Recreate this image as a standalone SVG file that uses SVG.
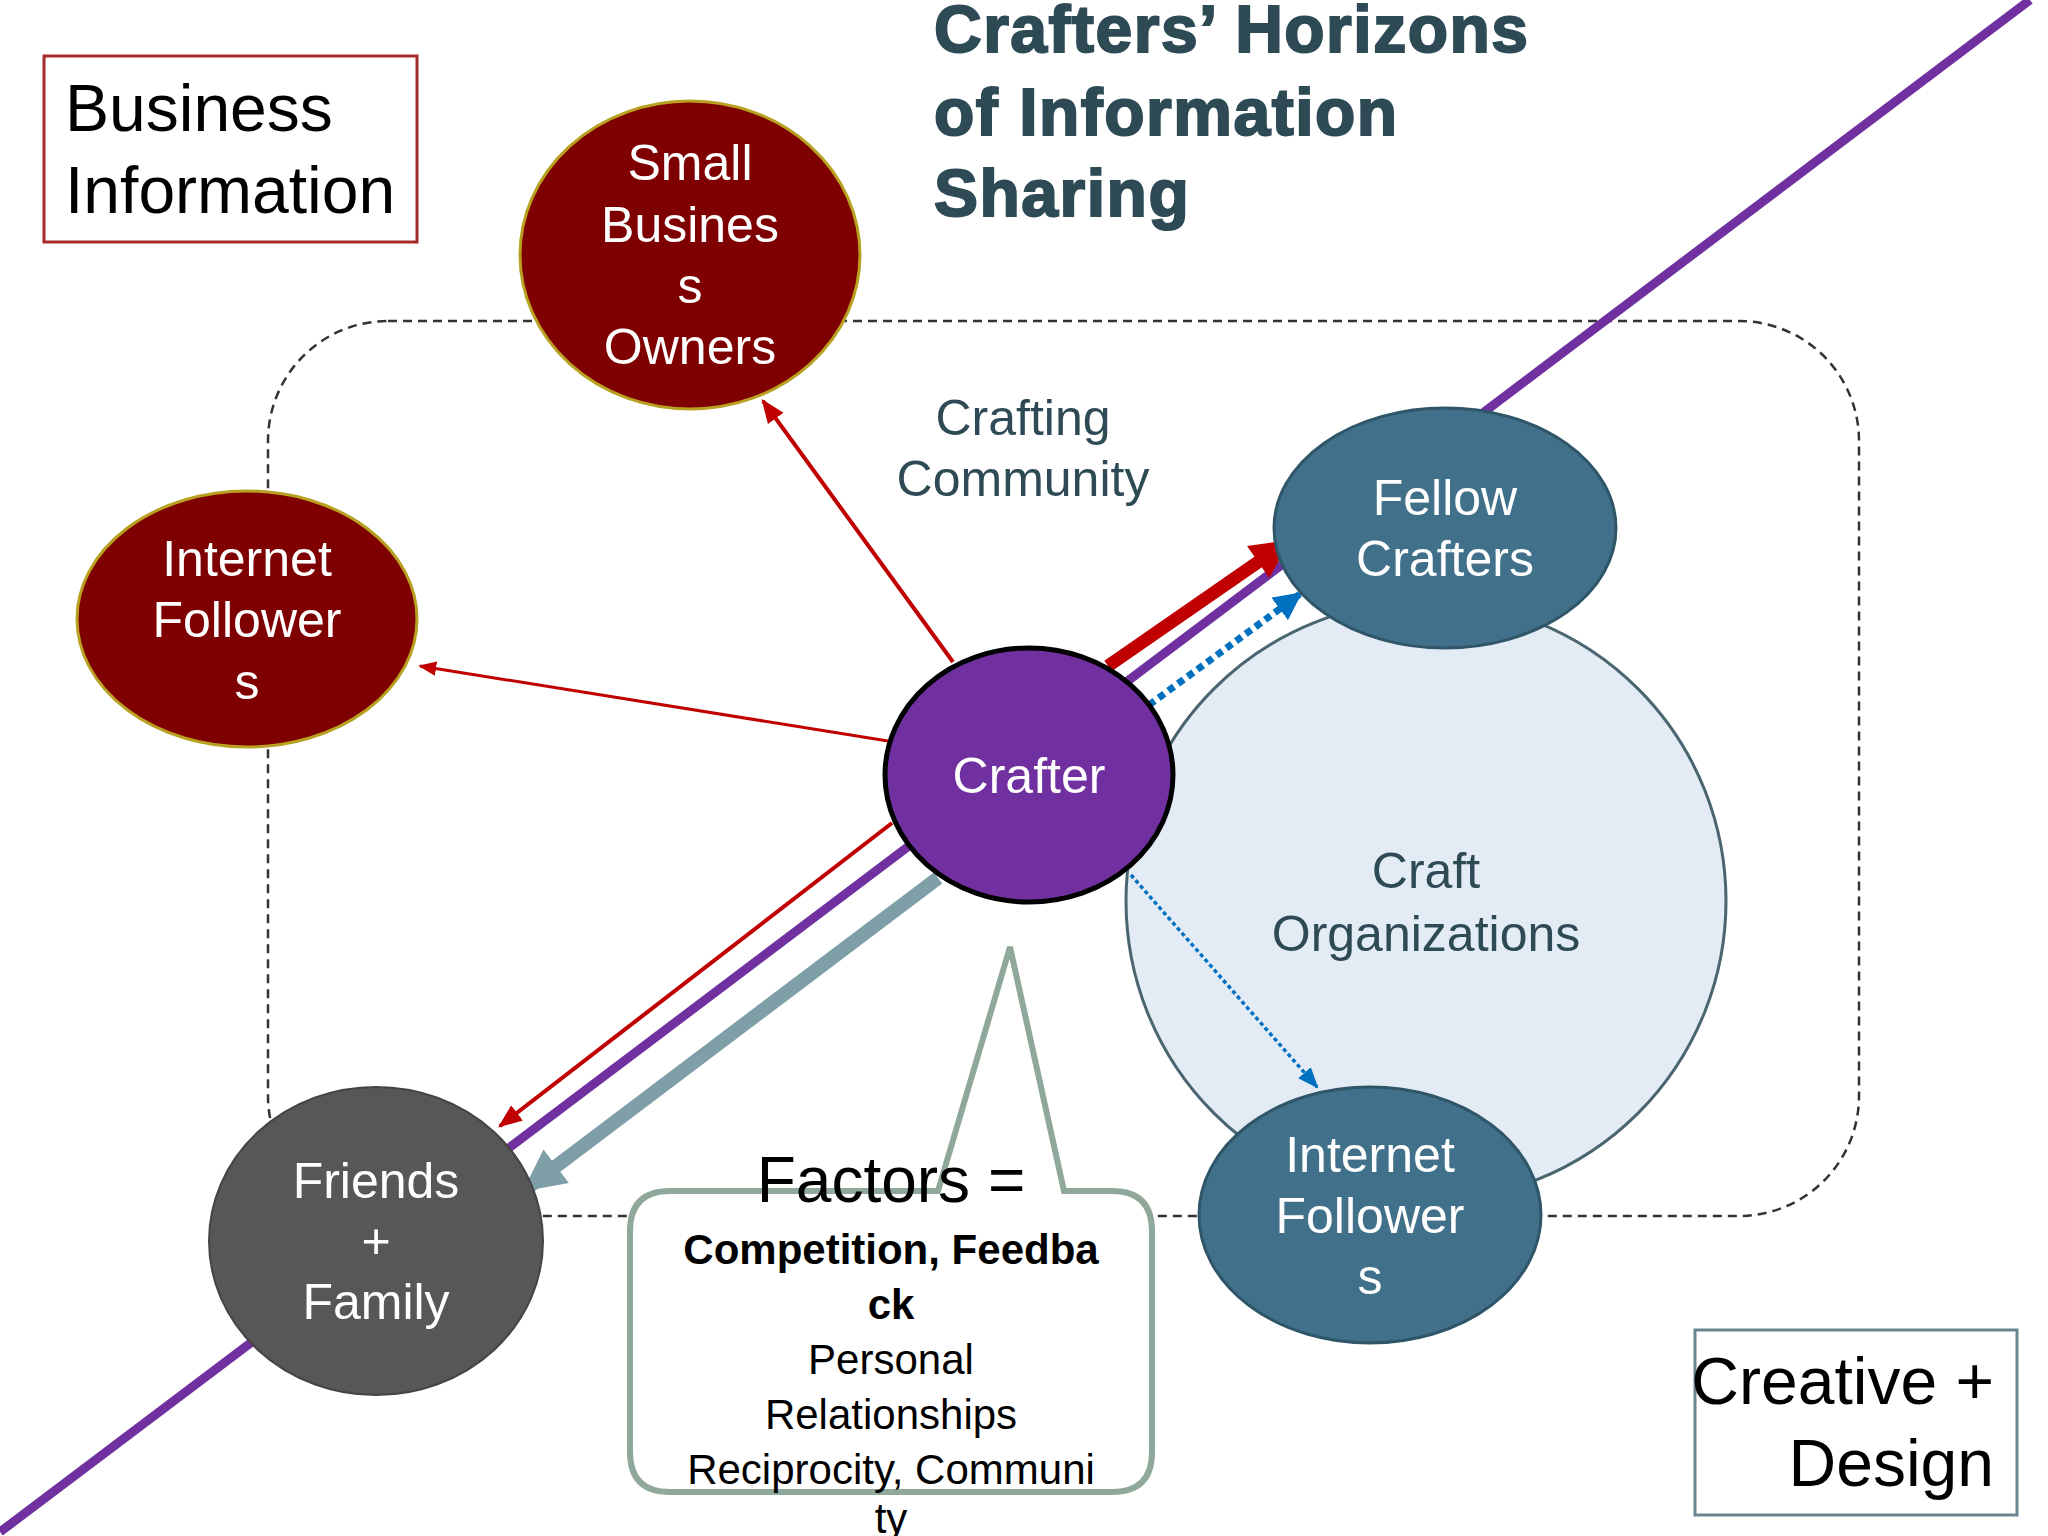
<svg xmlns="http://www.w3.org/2000/svg" width="2048" height="1536" viewBox="0 0 2048 1536">
<defs>
<style>
text{font-family:"Liberation Sans",Arial,sans-serif}
.w{fill:#fff;font-size:50px;text-anchor:middle}
.d{fill:#2d4a55;font-size:50px;text-anchor:middle}
.t{fill:#2d4a55;font-size:66px;font-weight:bold;stroke:#2d4a55;stroke-width:2;letter-spacing:1.5px}
.red{fill:#7f0000;stroke:#b8a020;stroke-width:3}
.teal{fill:#41718a;stroke:#2f5568;stroke-width:3}
.k{fill:#000;font-size:42px;text-anchor:middle}
</style>
<marker id="ar" viewBox="0 0 10 10" refX="9" refY="5" markerWidth="6" markerHeight="6" orient="auto" markerUnits="strokeWidth"><path d="M0,1L10,5L0,9z" fill="#c00000"/></marker>
<marker id="arT" viewBox="0 0 10 10" refX="9" refY="5" markerWidth="3.5" markerHeight="3" orient="auto" markerUnits="strokeWidth"><path d="M0,0L10,5L0,10z" fill="#c00000"/></marker>
<marker id="arG" viewBox="0 0 10 10" refX="9" refY="5" markerWidth="3.5" markerHeight="3" orient="auto" markerUnits="strokeWidth"><path d="M0,0L10,5L0,10z" fill="#7f9fa8"/></marker>
<marker id="arB" viewBox="0 0 10 10" refX="9" refY="5" markerWidth="4" markerHeight="4" orient="auto" markerUnits="strokeWidth"><path d="M0,0L10,5L0,10z" fill="#0070c0"/></marker>
<marker id="arB2" viewBox="0 0 10 10" refX="9" refY="5" markerWidth="6" markerHeight="6" orient="auto" markerUnits="strokeWidth"><path d="M0,1L10,5L0,9z" fill="#0070c0"/></marker>
</defs>
<rect width="2048" height="1536" fill="#fff"/>
<g id="title">
<text class="t" x="934" y="52">Crafters’ Horizons</text>
<text class="t" x="934" y="135">of Information</text>
<text class="t" x="934" y="216">Sharing</text>
</g>
<g id="business-info"><rect x="44" y="56" width="373" height="186" fill="none" stroke="#a52a2a" stroke-width="3"/>
<text x="65" y="131" font-size="66">Business</text><text x="65" y="213" font-size="66">Information</text></g>
<g id="creative-design"><rect x="1695" y="1330" width="322" height="185" fill="none" stroke="#6a8590" stroke-width="3"/>
<text x="1994" y="1404" font-size="66" text-anchor="end">Creative +</text><text x="1994" y="1486" font-size="66" text-anchor="end">Design</text></g>
<g id="community"><rect x="268" y="321" width="1591" height="895" rx="120" fill="none" stroke="#333" stroke-width="2.5" stroke-dasharray="9,6"/>
<text class="d" x="1023" y="435">Crafting</text><text class="d" x="1023" y="496">Community</text></g>
<g id="craft-orgs"><circle cx="1426" cy="901" r="300" fill="#e3ecf4" stroke="#4a6470" stroke-width="3"/>
<text class="d" x="1426" y="888">Craft</text><text class="d" x="1426" y="951">Organizations</text></g>
<g id="connectors">
<line x1="0" y1="1532" x2="2030" y2="0" stroke="#7030a0" stroke-width="9"/>
<line x1="953" y1="662" x2="763" y2="401" stroke="#c00000" stroke-width="4" marker-end="url(#ar)"/>
<line x1="888" y1="741" x2="420" y2="666" stroke="#c00000" stroke-width="3" marker-end="url(#ar)"/>
<line x1="1108" y1="666" x2="1287" y2="542" stroke="#c00000" stroke-width="13" marker-end="url(#arT)"/>
<line x1="892" y1="823" x2="500" y2="1126" stroke="#c00000" stroke-width="4" marker-end="url(#ar)"/>
<line x1="938" y1="878" x2="526" y2="1189" stroke="#7f9fa8" stroke-width="14" marker-end="url(#arG)"/>
<line x1="1149" y1="705" x2="1300" y2="594" stroke="#0070c0" stroke-width="7" stroke-dasharray="7,5" marker-end="url(#arB)"/>
<line x1="1131" y1="875" x2="1317" y2="1087" stroke="#0070c0" stroke-width="3.5" stroke-dasharray="4,3" marker-end="url(#arB2)"/>
</g>
<g id="small-business"><ellipse class="red" cx="690" cy="255" rx="170" ry="154"/>
<text class="w" x="690" y="180">Small</text><text class="w" x="690" y="242">Busines</text><text class="w" x="690" y="303">s</text><text class="w" x="690" y="364">Owners</text></g>
<g id="internet-left"><ellipse class="red" cx="247" cy="619" rx="170" ry="128"/>
<text class="w" x="247" y="576">Internet</text><text class="w" x="247" y="637">Follower</text><text class="w" x="247" y="699">s</text></g>
<g id="fellow"><ellipse class="teal" cx="1445" cy="528" rx="171" ry="120"/>
<text class="w" x="1445" y="515">Fellow</text><text class="w" x="1445" y="576">Crafters</text></g>
<g id="internet-right"><ellipse class="teal" cx="1370" cy="1215" rx="171" ry="128"/>
<text class="w" x="1370" y="1172">Internet</text><text class="w" x="1370" y="1233">Follower</text><text class="w" x="1370" y="1294">s</text></g>
<g id="friends"><ellipse cx="376" cy="1241" rx="167" ry="154" fill="#575757" stroke="#444" stroke-width="2"/>
<text class="w" x="376" y="1198">Friends</text><text class="w" x="376" y="1258">+</text><text class="w" x="376" y="1319">Family</text></g>
<g id="crafter"><ellipse cx="1029" cy="775" rx="144" ry="127" fill="#7030a0" stroke="#000" stroke-width="5"/>
<text class="w" x="1029" y="793">Crafter</text></g>
<g id="factors">
<path d="M670,1191 H938 L1010,947 L1064,1191 H1112 Q1152,1191 1152,1231 V1452 Q1152,1492 1112,1492 H670 Q630,1492 630,1452 V1231 Q630,1191 670,1191 Z" fill="#fff" stroke="#8fa89a" stroke-width="6"/>
<text x="891" y="1202" font-size="64" text-anchor="middle">Factors =</text>
<text class="k" x="891" y="1264" font-weight="bold">Competition, Feedba</text>
<text class="k" x="891" y="1319" font-weight="bold">ck</text>
<text class="k" x="891" y="1374">Personal</text>
<text class="k" x="891" y="1429">Relationships</text>
<text class="k" x="891" y="1484">Reciprocity, Communi</text>
<text class="k" x="891" y="1533">ty</text>
</g>
</svg>
